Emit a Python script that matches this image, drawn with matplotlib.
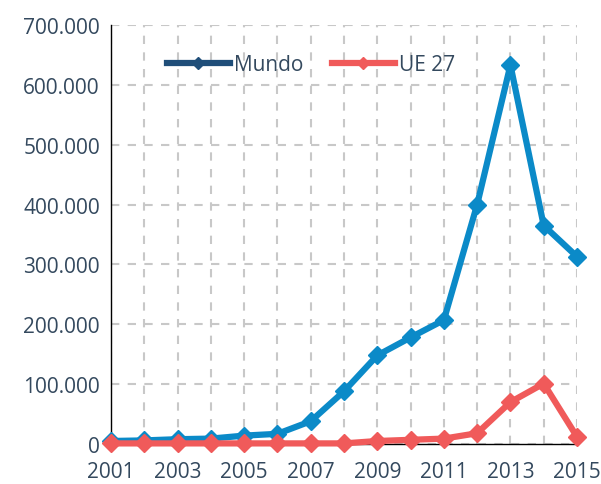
import matplotlib.pyplot as plt
from matplotlib.lines import Line2D
from matplotlib.ticker import FuncFormatter, MultipleLocator

years = list(range(2001, 2016))
mundo = [5000, 6000, 8000, 9000, 14000, 17000, 38000, 88000, 148000, 178000, 207000, 400000, 633000, 365000, 313000]
ue27 = [1000, 1000, 1000, 1000, 1000, 1000, 1000, 1000, 5000, 7000, 9000, 18000, 70000, 101000, 12000]

TXT = "#34495e"
plt.rcParams['font.family'] = ['Open Sans', 'DejaVu Sans']

fig = plt.figure(figsize=(6.01, 4.85), dpi=100)
ax = fig.add_axes([111 / 601, 40 / 485, 466 / 601, 419 / 485])

ax.plot(years, mundo, color="#0b8ac8", lw=4.5, marker="D", ms=9, clip_on=False, zorder=4)
ax.plot(years, ue27, color="#f05a5a", lw=4.5, marker="D", ms=9, clip_on=False, zorder=5)

ax.set_xlim(2001, 2015)
ax.set_ylim(0, 700000)
ax.set_xticks(years)
ax.set_xticklabels([str(y) if (y - 2001) % 2 == 0 else "" for y in years])
ax.yaxis.set_major_locator(MultipleLocator(100000))
ax.yaxis.set_major_formatter(FuncFormatter(lambda v, p: "0" if v == 0 else f"{int(v):,}".replace(",", ".")))
ax.tick_params(length=0, labelsize=15, colors=TXT, pad=8)
ax.tick_params(axis='x', pad=12)

ax.grid(True, color="#c8c8c8", ls=(0, (4, 4)), lw=1.5)
for s in ["top", "right"]:
    ax.spines[s].set_visible(False)
ax.spines["left"].set_color("black")
ax.spines["bottom"].set_color("black")
ax.spines["left"].set_linewidth(1)
ax.spines["bottom"].set_linewidth(1)

handles = [
    Line2D([], [], color="#1f4e79", lw=4.5, marker="D", ms=6),
    Line2D([], [], color="#f05a5a", lw=4.5, marker="D", ms=6),
]
ax.legend(handles, ["Mundo", "UE 27"], loc="upper left", bbox_to_anchor=(0.08, 0.975),
          ncol=2, frameon=False, fontsize=15, labelcolor=TXT, handlelength=3.0,
          handletextpad=0.2, columnspacing=1.4)

fig.savefig("out.png", dpi=100)
